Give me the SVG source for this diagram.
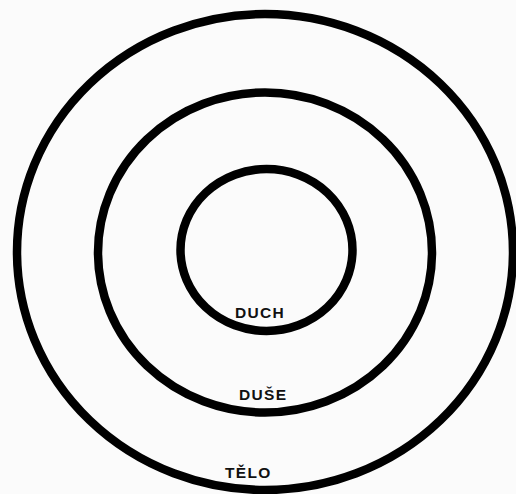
<svg xmlns="http://www.w3.org/2000/svg" width="516" height="494" viewBox="0 0 516 494">
<style>
.ring{fill:none;stroke:#000;stroke-width:8.5}
.lbl{font-family:"Liberation Sans",Arial,sans-serif;font-weight:bold;font-size:15.5px;fill:#111;letter-spacing:1.3px}
</style>
<rect width="516" height="494" fill="#fbfbfb"/>
<g id="telo">
<ellipse class="ring" cx="265" cy="252" rx="248" ry="238"/>
<text class="lbl" x="225" y="478">TĚLO</text>
</g>
<g id="duse">
<ellipse class="ring" cx="265" cy="252.5" rx="167" ry="160"/>
<text class="lbl" x="239" y="400">DUŠE</text>
</g>
<g id="duch">
<ellipse class="ring" cx="266.5" cy="250" rx="86" ry="81"/>
<text class="lbl" x="235" y="318">DUCH</text>
</g>
<g id="connectors"></g>
</svg>
